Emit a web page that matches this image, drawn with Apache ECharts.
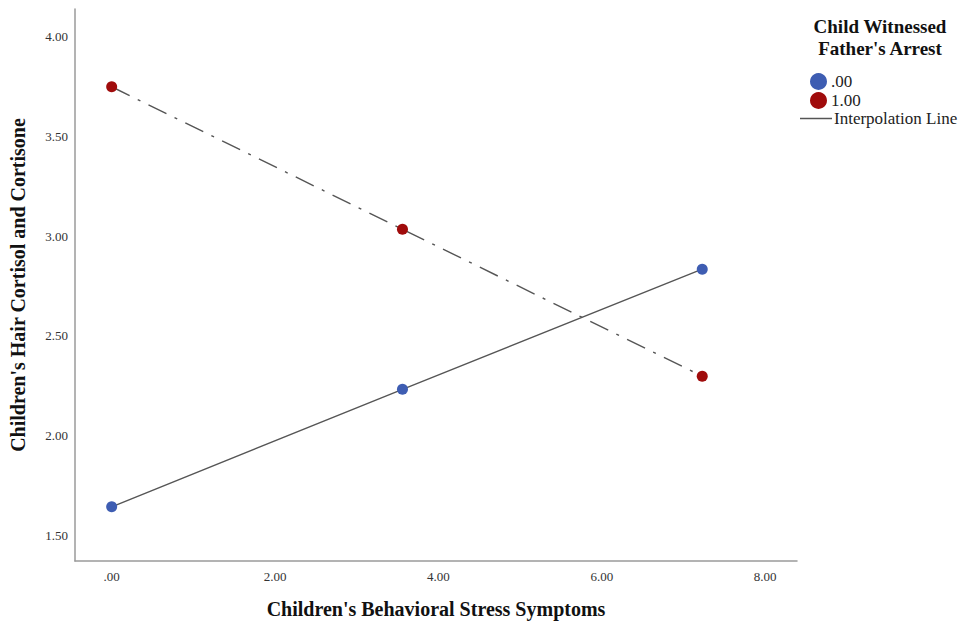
<!DOCTYPE html>
<html>
<head>
<meta charset="utf-8">
<script src="https://cdn.jsdelivr.net/npm/echarts@6/dist/echarts.min.js"></script>
<style>html,body{margin:0;padding:0;background:#fff}#c{width:960px;height:621px}</style>
</head>
<body>
<div id="c"></div>
<script>
const xTicks = [0, 2, 4, 6, 8];
const yTicks = [1.5, 2.0, 2.5, 3.0, 3.5, 4.0];
const stressX = [0, 3.56, 7.23];
const cortisolNo = [1.642, 2.231, 2.834];   // .00
const cortisolYes = [3.749, 3.034, 2.297];  // 1.00
const groupNames = ['.00', '1.00'];
const lineLabel = 'Interpolation Line';
const legendTitle = "Child Witnessed\nFather's Arrest";
const xName = "Children's Behavioral Stress Symptoms";
const yName = "Children's Hair Cortisol and Cortisone";

const serif = '"Liberation Serif", "DejaVu Serif", serif';
const fmt = v => { let s = v.toFixed(2); return s.startsWith('0') ? s.slice(1) : s; };

const chart = echarts.init(document.getElementById('c'), null, {renderer: 'svg'});
chart.setOption({
  animation: false,
  backgroundColor: '#fff',
  grid: {left: 75, right: 163, top: 9, bottom: 60, containLabel: false, outerBoundsMode: 'none'},
  xAxis: {
    type: 'value', min: -0.449, max: 8.39,
    name: xName, nameLocation: 'middle', nameGap: 38,
    nameTextStyle: {fontFamily: serif, fontWeight: 'bold', fontSize: 20, color: '#111'},
    axisLine: {show: true, onZero: false, lineStyle: {color: '#9a9a9a', width: 1.5}},
    axisTick: {show: false},
    splitLine: {show: false},
    axisLabel: {customValues: xTicks, formatter: fmt, fontFamily: serif, fontSize: 13, color: '#333', margin: 9}
  },
  yAxis: {
    type: 'value', min: 1.37, max: 4.139,
    name: yName, nameLocation: 'middle', nameGap: 47,
    nameTextStyle: {fontFamily: serif, fontWeight: 'bold', fontSize: 20, color: '#111'},
    axisLine: {show: true, onZero: false, lineStyle: {color: '#9a9a9a', width: 1.5}},
    axisTick: {show: false},
    splitLine: {show: false},
    axisLabel: {customValues: yTicks, formatter: fmt, fontFamily: serif, fontSize: 13, color: '#333', margin: 7}
  },
  legend: [{
    data: [{name: groupNames[0], icon: 'circle'}, {name: groupNames[1], icon: 'circle'}],
    orient: 'vertical', left: 805, top: 68, itemWidth: 17, itemHeight: 17, itemGap: 2,
    textStyle: {fontFamily: serif, fontSize: 17, color: '#222', padding: [0,0,0,-1]}
  }, {
    data: [{name: lineLabel, icon: 'rect'}],
    orient: 'vertical', left: 795, top: 105, itemWidth: 32, itemHeight: 1.5,
    textStyle: {fontFamily: serif, fontSize: 17, color: '#222', padding: [0,0,0,-3]}
  }],
  graphic: [{
    type: 'text', x: 880, y: 15,
    style: {text: legendTitle, font: 'bold 19px ' + serif, fill: '#111', align: 'center', lineHeight: 22}
  }],
  series: [{
    name: groupNames[0], type: 'line',
    data: stressX.map((x, i) => [x, cortisolNo[i]]),
    symbol: 'circle', symbolSize: 11,
    itemStyle: {color: '#3e5db2'},
    lineStyle: {color: '#555', width: 1.4, type: 'solid'}
  }, {
    name: groupNames[1], type: 'line',
    data: stressX.map((x, i) => [x, cortisolYes[i]]),
    symbol: 'circle', symbolSize: 11,
    itemStyle: {color: '#a00c0c'},
    lineStyle: {color: '#555', width: 1.4, type: [20, 9, 3, 9]}
  }, {
    name: lineLabel, type: 'line', data: [],
    itemStyle: {color: '#555'}, lineStyle: {color: '#555'}
  }]
});
</script>
</body>
</html>
